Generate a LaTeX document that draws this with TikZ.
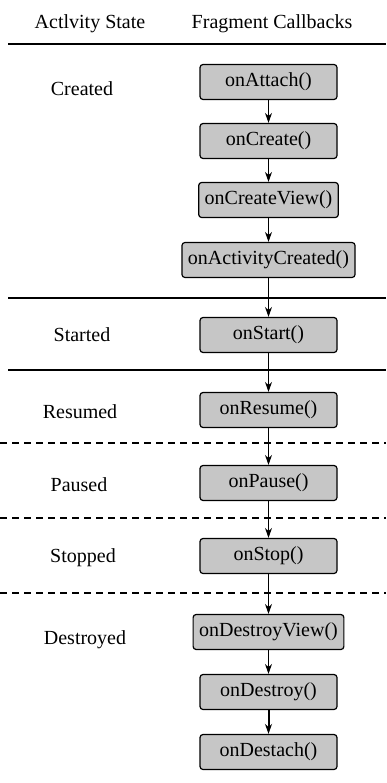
\documentclass[tikz,border=0pt]{standalone}
\usepackage{fontspec}
\setmainfont{Liberation Serif}
\usetikzlibrary{arrows.meta}
\tikzset{
  cb/.style={draw,line width=1.2pt,rounded corners=3pt,fill=gray!45,
    minimum width=137pt,minimum height=35pt,inner xsep=6pt},
  st/.style={},
  sep/.style={line width=1.2pt},
  dsep/.style={line width=1.2pt,dash pattern=on 7pt off 5pt}
}
\begin{document}
\begin{tikzpicture}[x=1pt,y=-1pt,font=\fontsize{20}{24}\selectfont,
  >={Stealth[length=10pt,width=7pt]}]
\useasboundingbox (0,0) rectangle (386,783);
\node[st](h1) at (90,24){Actlvity State};
\node[st](h2) at (272,24){Fragment Callbacks};
\draw[sep](8,44)--(386,44);
\draw[sep](8,298)--(386,298);
\draw[sep](8,370)--(386,370);
\draw[dsep](0,443)--(386,443);
\draw[dsep](0,518)--(386,518);
\draw[dsep](0,593)--(386,593);
\node[st](created) at (82,89){Created};
\node[st](started) at (82,335){Started};
\node[st](resumed) at (80,412){Resumed};
\node[st](paused) at (79,485){Paused};
\node[st](stopped) at (83,558){Stopped};
\node[st](destroyed) at (85,640){Destroyed};
\node[cb](attach) at (268.5,82){onAttach()};
\node[cb](create) at (268.5,141){onCreate()};
\node[cb](cview) at (268.5,200){onCreateView()};
\node[cb](acreated) at (268.5,260){onActivityCreated()};
\node[cb](start) at (268.5,335){onStart()};
\node[cb](resume) at (268.5,410){onResume()};
\node[cb](pause) at (268.5,483){onPause()};
\node[cb](stop) at (268.5,556){onStop()};
\node[cb](dview) at (268.5,632){onDestroyView()};
\node[cb](destroy) at (268.5,692){onDestroy()};
\node[cb](destach) at (268.5,752){onDestach()};
\foreach \a/\b in {attach/create,create/cview,cview/acreated,acreated/start,
  start/resume,resume/pause,pause/stop,stop/dview,dview/destroy}
  \draw[->,line width=1.1pt](\a)--(\b);
\draw[->,line width=2pt](destroy)--(destach);
\end{tikzpicture}
\end{document}
